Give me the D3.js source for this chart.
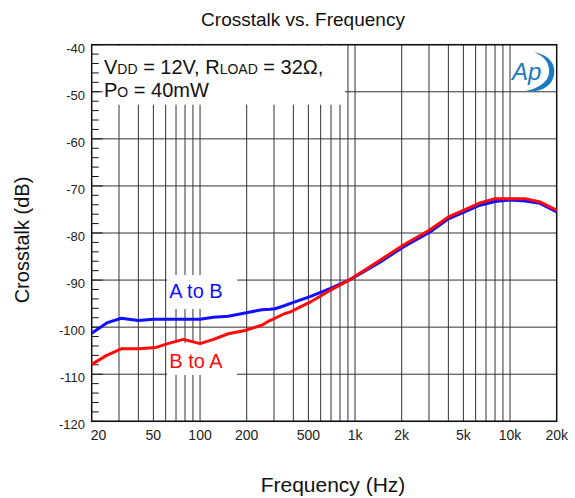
<!DOCTYPE html>
<html>
<head>
<meta charset="utf-8">
<script src="https://cdn.jsdelivr.net/npm/d3@7"></script>
<style>
  body { margin: 0; background: #fff; }
  svg { display: block; font-family: Arial, "Liberation Sans", sans-serif; }
</style>
</head>
<body>
<svg id="chart" width="575" height="498"></svg>
<script>
// ---- data ----
const freqBtoA = [20, 25, 31, 40, 52, 62, 78, 100, 122, 152, 195, 250, 282, 353, 380, 512, 689, 928, 1449, 2038, 3047, 4000, 5000, 6400, 8000, 10000, 12500, 15600, 20000];
const valBtoA  = [-107.9, -106.0, -104.6, -104.6, -104.3, -103.5, -102.6, -103.5, -102.6, -101.4, -100.7, -99.6, -98.6, -97.1, -96.8, -94.7, -92.2, -89.9, -85.8, -82.6, -79.3, -76.6, -75.2, -73.6, -72.7, -72.7, -72.7, -73.4, -75.2];
const freqAtoB = [20, 25, 31, 40, 50, 62, 100, 122, 152, 195, 250, 282, 305, 353, 380, 512, 689, 928, 1449, 2038, 3047, 4000, 5000, 6400, 8000, 10000, 12500, 15600, 20000];
const valAtoB  = [-101.3, -99.1, -98.1, -98.6, -98.3, -98.3, -98.3, -97.9, -97.7, -97.0, -96.3, -96.2, -96.1, -95.4, -95.0, -93.5, -91.8, -89.9, -86.2, -83.0, -79.8, -77.0, -75.6, -74.1, -73.3, -73.0, -73.2, -73.7, -75.5];
const xTickValues = [20, 50, 100, 200, 500, 1000, 2000, 5000, 10000, 20000];
const xTickLabels = ["20", "50", "100", "200", "500", "1k", "2k", "5k", "10k", "20k"];
const xGridValues = [30, 40, 50, 60, 70, 80, 90, 100, 200, 300, 400, 500, 600, 700, 800, 900, 1000, 2000, 3000, 4000, 5000, 6000, 7000, 8000, 9000, 10000];
const yTickValues = [-40, -50, -60, -70, -80, -90, -100, -110, -120];
const yMinorValues = d3.range(-120, -39, 2);

// ---- layout ----
const L = 91.7, R = 556.7, T = 44.7, B = 421.3;
const svg = d3.select("#chart");
const x = d3.scaleLog().domain([20, 20000]).range([L, R]);
const y = d3.scaleLinear().domain([-120, -40]).range([B, T]);

// grid
const grid = svg.append("g").attr("stroke", "#333").attr("stroke-width", 1);
grid.selectAll("line.v").data(xGridValues).enter().append("line")
  .attr("x1", d => x(d)).attr("x2", d => x(d)).attr("y1", T).attr("y2", B);
grid.selectAll("line.h").data(yTickValues).enter().append("line")
  .attr("x1", L).attr("x2", R).attr("y1", d => y(d)).attr("y2", d => y(d));

// white label boxes
svg.append("rect").attr("x", 99).attr("y", T + 1).attr("width", 246).attr("height", 59).attr("fill", "#fff");
svg.append("rect").attr("x", 167).attr("y", 275).attr("width", 70).attr("height", 34).attr("fill", "#fff");
svg.append("rect").attr("x", 167).attr("y", 343).attr("width", 70).attr("height", 32).attr("fill", "#fff");

// left ticks
const ticks = svg.append("g").attr("stroke", "#111").attr("stroke-width", 1);
ticks.selectAll("line.mi").data(yMinorValues).enter().append("line")
  .attr("x1", L).attr("x2", d => L + (d % 10 === 0 ? 11 : 7))
  .attr("y1", d => y(d)).attr("y2", d => y(d));

// frame
svg.append("rect").attr("x", L).attr("y", T).attr("width", R - L).attr("height", B - T)
  .attr("fill", "none").attr("stroke", "#111").attr("stroke-width", 1.5);

// curves
const line = d3.line().x(d => x(d[0])).y(d => y(d[1]));
svg.append("path").datum(d3.zip(freqAtoB, valAtoB)).attr("d", line)
  .attr("fill", "none").attr("stroke", "#1010ff").attr("stroke-width", 3).attr("stroke-linejoin", "round");
svg.append("path").datum(d3.zip(freqBtoA, valBtoA)).attr("d", line)
  .attr("fill", "none").attr("stroke", "#ff0a0a").attr("stroke-width", 3).attr("stroke-linejoin", "round");

// axis labels
svg.append("g").selectAll("text").data(yTickValues).enter().append("text")
  .attr("x", 85).attr("y", d => y(d) + 8).attr("text-anchor", "end")
  .attr("font-size", 13).attr("fill", "#222").text(d => d);
svg.append("g").selectAll("text").data(xTickValues).enter().append("text")
  .attr("x", (d, i) => i === 0 ? x(d) - 1 : x(d))
  .attr("y", 440)
  .attr("text-anchor", (d, i) => i === 0 ? "start" : "middle")
  .attr("font-size", 14).attr("fill", "#222").text((d, i) => xTickLabels[i]);

// titles
svg.append("text").attr("x", 303).attr("y", 26).attr("text-anchor", "middle")
  .attr("font-size", 19).attr("fill", "#111").text("Crosstalk vs. Frequency");
svg.append("text").attr("x", 333).attr("y", 492).attr("text-anchor", "middle")
  .attr("font-size", 21).attr("fill", "#111").text("Frequency (Hz)");
svg.append("text").attr("transform", "translate(29,240) rotate(-90)").attr("text-anchor", "middle")
  .attr("font-size", 20).attr("fill", "#111").text("Crosstalk (dB)");

// annotation
const ann = svg.append("text").attr("font-size", 20).attr("fill", "#111");
const l1 = ann.append("tspan").attr("x", 104).attr("y", 74);
l1.append("tspan").text("V");
l1.append("tspan").attr("font-size", 14).text("DD");
l1.append("tspan").text(" = 12V, R");
l1.append("tspan").attr("font-size", 14).text("LOAD");
l1.append("tspan").text(" = 32Ω,");
const l2 = svg.append("text").attr("font-size", 20).attr("fill", "#111").attr("x", 104).attr("y", 97);
l2.append("tspan").text("P");
l2.append("tspan").attr("font-size", 14).text("O");
l2.append("tspan").text(" = 40mW");

// series labels
svg.append("text").attr("x", 196).attr("y", 298).attr("text-anchor", "middle")
  .attr("font-size", 20).attr("fill", "#1010ff").text("A to B");
svg.append("text").attr("x", 196).attr("y", 368).attr("text-anchor", "middle")
  .attr("font-size", 20).attr("fill", "#ff0a0a").text("B to A");

// AP logo
const logo = svg.append("g").attr("fill", "#1a7bbf");
logo.append("text").attr("x", 512).attr("y", 80).attr("font-size", 24)
  .attr("font-style", "italic").text("Ap");
logo.append("path")
  .attr("d", "M534,52 C550,55 556,65 554,75 C552,86 541,93 526,91 C539,88 548,82 549,73 C550,63 544,56 534,52 Z");
</script>
</body>
</html>
